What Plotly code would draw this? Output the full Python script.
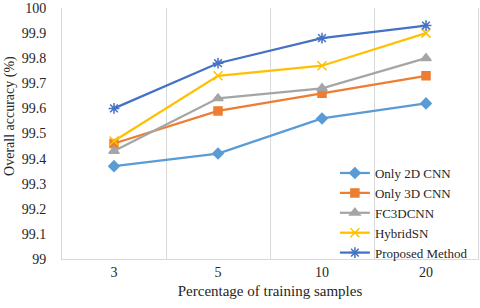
import plotly.graph_objects as go

categories = ["3", "5", "10", "20"]
only_2d_cnn = [99.37, 99.42, 99.56, 99.62]
only_3d_cnn = [99.46, 99.59, 99.66, 99.73]
fc3dcnn = [99.43, 99.64, 99.68, 99.80]
hybridsn = [99.47, 99.73, 99.77, 99.90]
proposed = [99.60, 99.78, 99.88, 99.93]

series = [
    ("Only 2D CNN", only_2d_cnn, "#5B9BD5", "diamond", 8),
    ("Only 3D CNN", only_3d_cnn, "#ED7D31", "square", 8),
    ("FC3DCNN", fc3dcnn, "#A5A5A5", "triangle-up", 9),
    ("HybridSN", hybridsn, "#FFC000", "x-thin-open", 9),
    ("Proposed Method", proposed, "#4472C4", "asterisk-open", 9),
]

font_family = "Liberation Serif"
text_color = "#262626"

fig = go.Figure()
for name, vals, color, sym, size in series:
    fig.add_trace(go.Scatter(
        x=categories, y=vals, name=name, mode="lines+markers",
        line=dict(color=color, width=2.25),
        marker=dict(symbol=sym, size=size, color=color,
                    line=dict(color=color, width=1.5)),
    ))

fig.add_annotation(
    text="Overall accuracy (%)", textangle=-90, xref="paper", yref="paper",
    x=-0.125, xanchor="center", y=0.57, yanchor="middle", showarrow=False,
    font=dict(size=14, family=font_family, color=text_color),
)

fig.update_layout(
    width=480, height=308,
    margin=dict(l=62, r=2, t=8, b=49, autoexpand=False),
    paper_bgcolor="white", plot_bgcolor="white",
    font=dict(family=font_family, size=13, color=text_color),
    showlegend=True,
    legend=dict(x=0.656, xanchor="left", y=-0.036, yanchor="bottom",
                bgcolor="rgba(255,255,255,0)",
                font=dict(size=13, family=font_family, color=text_color),
                tracegroupgap=0, itemwidth=30),
    xaxis=dict(
        type="category", tickson="boundaries", range=[-0.5, 3.5],
        showgrid=True, gridcolor="#D9D9D9", gridwidth=1, ticks="",
        showline=True, linecolor="#D9D9D9", linewidth=1,
        automargin=False,
        title=dict(text="Percentage of training samples", standoff=6,
                   font=dict(size=15, family=font_family, color=text_color)),
        tickfont=dict(size=14, family=font_family, color=text_color),
    ),
    yaxis=dict(
        range=[99, 100], dtick=0.1, tick0=99, showgrid=False,
        zeroline=False, showline=True, mirror=True,
        linecolor="#D9D9D9", linewidth=1, ticks="",
        ticklabelstandoff=12, automargin=False,
        tickfont=dict(size=14, family=font_family, color=text_color),
        tickformat="~r",
    ),
)

fig.write_html("out.html",
               config={"displayModeBar": False},
               post_script="document.body.style.margin='0';document.body.style.overflow='hidden';")
